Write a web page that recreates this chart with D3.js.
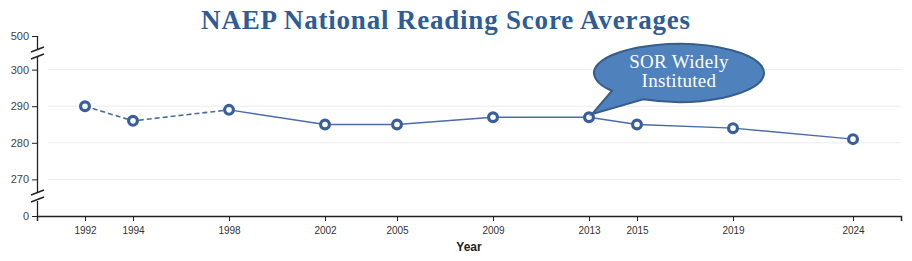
<!DOCTYPE html>
<html>
<head>
<meta charset="utf-8">
<script src="https://cdn.jsdelivr.net/npm/d3@7"></script>
<style>
  body { margin: 0; background: #fff; }
  svg { display: block; }
</style>
</head>
<body>
<svg id="chart" width="912" height="261"></svg>
<script>
// data
const years = [1992, 1994, 1998, 2002, 2005, 2009, 2013, 2015, 2019, 2024];
const scores = [290, 286, 289, 285, 285, 287, 287, 285, 284, 281];
const yTicks = [0, 270, 280, 290, 300, 500];
const gridTicks = [270, 280, 290, 300];
const dashedUntil = 1998; // earlier segment drawn dashed
const calloutYear = 2013;
const calloutLines = ["SOR Widely", "Instituted"];

const svg = d3.select("#chart");
const lineColor = "#4a6ca8";
const markColor = "#3a5e9c";

const x = d3.scaleLinear().domain([1990, 2026]).range([37, 901]);
// broken axis: 0 and 500 squeezed in at ends
const y = d3.scaleLinear().domain([0, 266, 304, 500]).range([216, 194, 55, 36]);

// title
svg.append("text")
    .attr("x", 446).attr("y", 29)
    .attr("text-anchor", "middle")
    .style("font-family", "'Liberation Serif', serif")
    .style("font-weight", "bold")
    .style("font-size", "27px")
    .style("letter-spacing", "0.8px")
    .style("fill", "#2e5c96")
    .text("NAEP National Reading Score Averages");

// gridlines
svg.append("g").selectAll("line")
    .data(gridTicks).enter().append("line")
    .attr("x1", 48).attr("x2", 901)
    .attr("y1", d => y(d)).attr("y2", d => y(d))
    .style("stroke", "#ebebeb").style("stroke-width", 1);

// y axis
const yAxis = svg.append("g").attr("transform", "translate(37,0)")
    .call(d3.axisLeft(y).tickValues(yTicks).tickSize(5).tickSizeOuter(0));
yAxis.select(".domain").remove();
yAxis.selectAll("text")
    .style("font-family", "'Liberation Sans', Arial, sans-serif")
    .style("font-size", "11px").style("fill", "#444");
yAxis.selectAll(".tick line").style("stroke", "#222");

// axis segments with break gaps
const segs = [[y(500), y(304) - 6], [y(304) + 2, y(266) - 1], [y(266) + 7, y(0)]];
svg.append("g").selectAll("line").data(segs).enter().append("line")
    .attr("x1", 37.5).attr("x2", 37.5)
    .attr("y1", d => d[0]).attr("y2", d => d[1])
    .style("stroke", "#222").style("stroke-width", 1.3);

const breaks = [y(304) - 5, y(304) + 2, y(266) - 1, y(266) + 6];
svg.append("g").selectAll("line").data(breaks).enter().append("line")
    .attr("x1", 31).attr("x2", 44)
    .attr("y1", d => d + 2).attr("y2", d => d - 3)
    .style("stroke", "#222").style("stroke-width", 1.5);

// x axis
const xAxis = svg.append("g").attr("transform", `translate(0,${y(0)})`)
    .call(d3.axisBottom(x).tickValues(years).tickFormat(d3.format("d")).tickSize(5).tickSizeOuter(5));
xAxis.select(".domain").style("stroke", "#222").style("stroke-width", 1.5);
xAxis.selectAll(".tick line").style("stroke", "#222");
xAxis.selectAll("text")
    .attr("dy", "0.95em")
    .style("font-family", "'Liberation Sans', Arial, sans-serif")
    .style("font-size", "10px").style("fill", "#333");

svg.append("text")
    .attr("x", 469).attr("y", 251)
    .attr("text-anchor", "middle")
    .style("font-family", "'Liberation Sans', Arial, sans-serif")
    .style("font-weight", "bold").style("font-size", "12px")
    .style("fill", "#222")
    .text("Year");

// lines
const pts = years.map((yr, i) => ({ year: yr, score: scores[i] }));
const line = d3.line().x(d => x(d.year)).y(d => y(d.score));

svg.append("path")
    .datum(pts.filter(d => d.year <= dashedUntil))
    .attr("d", line)
    .style("fill", "none").style("stroke", lineColor)
    .style("stroke-width", 1.6).style("stroke-dasharray", "5,3");

svg.append("path")
    .datum(pts.filter(d => d.year >= dashedUntil))
    .attr("d", line)
    .style("fill", "none").style("stroke", lineColor)
    .style("stroke-width", 1.4);

svg.append("g").selectAll("circle")
    .data(pts).enter().append("circle")
    .attr("cx", d => x(d.year)).attr("cy", d => y(d.score))
    .attr("r", 4.4)
    .style("fill", "#fff").style("stroke", markColor).style("stroke-width", 3.2);

// callout bubble
const cx = 679, cy = 73, rx = 85, ry = 29;
const tipX = x(calloutYear) + 3, tipY = y(scores[years.indexOf(calloutYear)]) - 3;
const a1 = Math.PI - Math.acos(0.79), a2 = Math.PI - Math.acos(0.42);
const p1 = [cx + rx * Math.cos(a1), cy + ry * Math.sin(a1)];
const p2 = [cx + rx * Math.cos(a2), cy + ry * Math.sin(a2)];
svg.append("path")
    .attr("d", `M${p1[0]},${p1[1]} A${rx},${ry} 0 1 1 ${p2[0]},${p2[1]} L${tipX},${tipY} Z`)
    .style("fill", "#4f81bd").style("stroke", "#385d8a").style("stroke-width", 2);

svg.append("g").selectAll("text")
    .data(calloutLines).enter().append("text")
    .attr("x", cx).attr("y", (d, i) => 68 + i * 19)
    .attr("text-anchor", "middle")
    .style("font-family", "'Liberation Serif', serif")
    .style("font-size", "19px").style("letter-spacing", "0.3px").style("fill", "#fff")
    .text(d => d);
</script>
</body>
</html>
